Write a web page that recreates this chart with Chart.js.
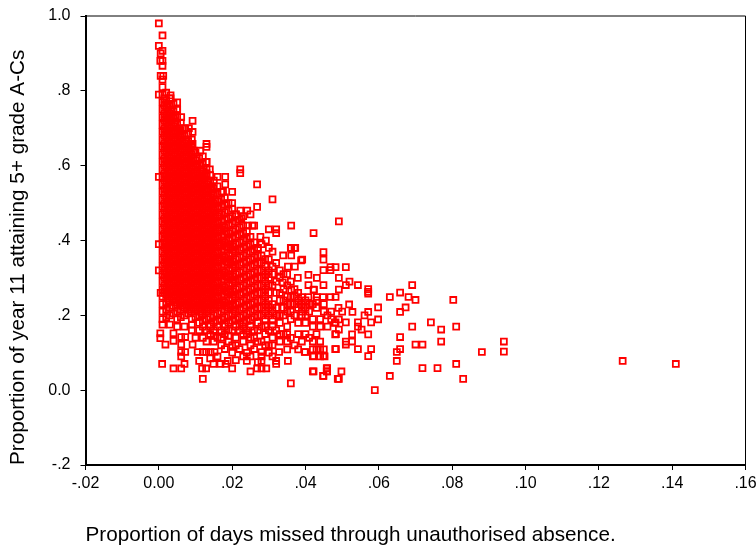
<!DOCTYPE html>
<html>
<head>
<meta charset="utf-8">
<style>
    html, body { margin: 0; padding: 0; background: #fff; }
    #wrap { width: 756px; height: 550px; position: relative; }
</style>
<script src="https://cdn.jsdelivr.net/npm/chart.js@4"></script>
</head>
<body>
<div id="wrap"><canvas id="myChart" width="756" height="550"></canvas></div>
<script>
const xTickLabels = ['-.02', '0.00', '.02', '.04', '.06', '.08', '.10', '.12', '.14', '.16'];
const yTickLabels = ['-.2', '0.0', '.2', '.4', '.6', '.8', '1.0'];

// dense part of the cloud: one absence value, then the attainment values read at it
const denseAbsence = [
    .001, .002, .003, .004, .005, .006, .007, .008, .009, .010,
    .011, .012, .013, .014, .015, .016, .017, .018, .019, .020,
    .021, .022, .023, .024, .025, .026, .027, .028, .029, .030
];
const denseAttainment = [
    [.19,.21,.23,.25,.27,.29,.31,.33,.35,.37,.39,.41,.43,.45,.47,.49,.51,.53,.55,.57,.59,.61,.63,.65,.67,.69,.71,.73,.75,.77,.79,.81,.83],
    [.195,.215,.235,.255,.275,.295,.315,.335,.355,.375,.395,.415,.435,.455,.475,.495,.515,.535,.555,.575,.595,.615,.635,.655,.675,.695,.715,.735,.755,.775,.795],
    [.2,.22,.24,.26,.28,.3,.32,.34,.36,.38,.4,.42,.44,.46,.48,.5,.52,.54,.56,.58,.6,.62,.64,.66,.68,.7,.72,.74,.76,.78],
    [.205,.225,.245,.265,.285,.305,.325,.345,.365,.385,.405,.425,.445,.465,.485,.505,.525,.545,.565,.585,.605,.625,.645,.665,.685,.705,.725,.745,.765],
    [.19,.21,.23,.25,.27,.29,.31,.33,.35,.37,.39,.41,.43,.45,.47,.49,.51,.53,.55,.57,.59,.61,.63,.65,.67,.69,.71,.73,.75],
    [.195,.215,.235,.255,.275,.295,.315,.335,.355,.375,.395,.415,.435,.455,.475,.495,.515,.535,.555,.575,.595,.615,.635,.655,.675,.695,.715],
    [.2,.22,.24,.26,.28,.3,.32,.34,.36,.38,.4,.42,.44,.46,.48,.5,.52,.54,.56,.58,.6,.62,.64,.66,.68,.7],
    [.205,.225,.245,.265,.285,.305,.325,.345,.365,.385,.405,.425,.445,.465,.485,.505,.525,.545,.565,.585,.605,.625,.645,.665,.685],
    [.19,.21,.23,.25,.27,.29,.31,.33,.35,.37,.39,.41,.43,.45,.47,.49,.51,.53,.55,.57,.59,.61,.63,.65,.67],
    [.195,.215,.235,.255,.275,.295,.315,.335,.355,.375,.395,.415,.435,.455,.475,.495,.515,.535,.555,.575,.595,.615,.635],
    [.18,.2,.22,.24,.26,.28,.3,.32,.34,.36,.38,.4,.42,.44,.46,.48,.5,.52,.54,.56,.58,.6,.62],
    [.185,.205,.225,.245,.265,.285,.305,.325,.345,.365,.385,.405,.425,.445,.465,.485,.505,.525,.545,.565,.585,.605,.625],
    [.19,.21,.23,.25,.27,.29,.31,.33,.35,.37,.39,.41,.43,.45,.47,.49,.51,.53,.55,.57,.59,.61],
    [.175,.195,.215,.235,.255,.275,.295,.315,.335,.355,.375,.395,.415,.435,.455,.475,.495,.515,.535,.555,.575],
    [.18,.2,.22,.24,.26,.28,.3,.32,.34,.36,.38,.4,.42,.44,.46,.48,.5,.52,.54,.56],
    [.185,.205,.225,.245,.265,.285,.305,.325,.345,.365,.385,.405,.425,.445,.465,.485,.505,.525,.545],
    [.19,.21,.23,.25,.27,.29,.31,.33,.35,.37,.39,.41,.43,.45,.47,.49,.51,.53],
    [.175,.195,.215,.235,.255,.275,.295,.315,.335,.355,.375,.395,.415,.435,.455,.475,.495,.515],
    [.18,.2,.22,.24,.26,.28,.3,.32,.34,.36,.38,.4,.42,.44,.46,.48,.5],
    [.185,.205,.225,.245,.265,.285,.305,.325,.345,.365,.385,.405,.425,.445,.465,.485],
    [.19,.21,.23,.25,.27,.29,.31,.33,.35,.37,.39,.41,.43,.45,.47],
    [.175,.195,.215,.235,.255,.275,.295,.315,.335,.355,.375,.395,.415,.435,.455],
    [.18,.2,.22,.24,.26,.28,.3,.32,.34,.36,.38,.4,.42,.44],
    [.185,.205,.225,.245,.265,.285,.305,.325,.345,.365,.385,.405,.425],
    [.19,.21,.23,.25,.27,.29,.31,.33,.35,.37,.39,.41],
    [.195,.215,.235,.255,.275,.295,.315,.335,.355,.375,.395],
    [.18,.2,.22,.24,.26,.28,.3,.32,.34,.36,.38],
    [.2,.22,.24,.26,.28,.3,.32,.34,.36],
    [.19,.21,.23,.25,.27,.29,.31,.33,.35],
    [.2,.22,.24,.26,.28,.3,.32]
];

// second pass over the same block, read between the columns above
const fillAbsence = [
    .0015, .0025, .0035, .0045, .0055, .0065, .0075, .0085, .0095, .0105,
    .0115, .0125, .0135, .0145, .0155, .0165, .0175, .0185, .0195, .0205
];
const fillAttainment = [
    [.26,.28,.3,.32,.34,.36,.38,.4,.42,.44,.46,.48,.5,.52,.54,.56,.58,.6,.62,.64,.66,.68,.7,.72,.74,.76,.78],
    [.245,.265,.285,.305,.325,.345,.365,.385,.405,.425,.445,.465,.485,.505,.525,.545,.565,.585,.605,.625,.645,.665,.685,.705,.725,.745,.765],
    [.25,.27,.29,.31,.33,.35,.37,.39,.41,.43,.45,.47,.49,.51,.53,.55,.57,.59,.61,.63,.65,.67,.69,.71,.73,.75],
    [.235,.255,.275,.295,.315,.335,.355,.375,.395,.415,.435,.455,.475,.495,.515,.535,.555,.575,.595,.615,.635,.655,.675,.695,.715,.735],
    [.24,.26,.28,.3,.32,.34,.36,.38,.4,.42,.44,.46,.48,.5,.52,.54,.56,.58,.6,.62,.64,.66,.68,.7],
    [.225,.245,.265,.285,.305,.325,.345,.365,.385,.405,.425,.445,.465,.485,.505,.525,.545,.565,.585,.605,.625,.645,.665,.685],
    [.23,.25,.27,.29,.31,.33,.35,.37,.39,.41,.43,.45,.47,.49,.51,.53,.55,.57,.59,.61,.63,.65,.67],
    [.215,.235,.255,.275,.295,.315,.335,.355,.375,.395,.415,.435,.455,.475,.495,.515,.535,.555,.575,.595,.615,.635,.655],
    [.22,.24,.26,.28,.3,.32,.34,.36,.38,.4,.42,.44,.46,.48,.5,.52,.54,.56,.58,.6,.62,.64],
    [.225,.245,.265,.285,.305,.325,.345,.365,.385,.405,.425,.445,.465,.485,.505,.525,.545,.565,.585,.605],
    [.21,.23,.25,.27,.29,.31,.33,.35,.37,.39,.41,.43,.45,.47,.49,.51,.53,.55,.57,.59],
    [.215,.235,.255,.275,.295,.315,.335,.355,.375,.395,.415,.435,.455,.475,.495,.515,.535,.555,.575],
    [.22,.24,.26,.28,.3,.32,.34,.36,.38,.4,.42,.44,.46,.48,.5,.52,.54,.56],
    [.225,.245,.265,.285,.305,.325,.345,.365,.385,.405,.425,.445,.465,.485,.505,.525,.545],
    [.23,.25,.27,.29,.31,.33,.35,.37,.39,.41,.43,.45,.47,.49,.51],
    [.235,.275,.315,.355,.395,.435,.475],
    [.24,.28,.32,.36,.4,.44],
    [.225,.265,.305,.345,.385,.425],
    [.23,.27,.31,.35,.39],
    [.215,.255,.295,.335,.375]
];

// squares along the top edge of the cloud
const edgePoints = [
    [.000,.98],[.001,.948],[.000,.92],[.001,.907],[.0005,.9],[.0004,.88],[.001,.88],[.001,.867],
    [.0005,.84],[.0012,.84],[.000,.79],[.0032,.788],[.0032,.78],[.005,.769],[.005,.75],[.0061,.73],
    [.0092,.72],[.0072,.7],[.0082,.7],[.0092,.69],[.0092,.658],[.013,.658],[.013,.65],[.0113,.64],
    [.013,.61],[.0139,.59],[.013,.58],[.0222,.59],[.0222,.58],[.0181,.57],[.016,.57],[.0181,.55],
    [.0268,.55],[.031,.51],[.0268,.49],[.02,.53],[.0175,.53],[.02,.5],[.0222,.48],[.0241,.48],
    [.025,.47],[.0241,.44],[.026,.44],[.0361,.44],[.03,.43],[.032,.43],[.032,.42],[.0277,.41],
    [.0292,.4],[.0361,.38],[.0372,.38],[.000,.57],[.000,.39],[.000,.32],[.0005,.26],[.0225,.46],
    [.021,.47],[.023,.465],[.0255,.44],[.028,.39],[.03,.38],[.031,.37],[.027,.38],[.03,.35]
];

// looser squares right of the dense block
const middlePoints = [
    [.0339,.36],[.0361,.36],[.036,.38],[.037,.38],[.0388,.347],[.0371,.33],[.0352,.33],[.032,.34],
    [.0338,.288],[.0361,.268],[.039,.249],[.0379,.3],[.0408,.308],[.0431,.3],[.0408,.281],[.0423,.268],
    [.0408,.249],[.0431,.249],[.0448,.249],[.0468,.249],[.0482,.249],[.0391,.349],[.033,.32],[.035,.31],
    [.031,.33],[.033,.3],[.036,.29],[.031,.28],[.034,.27],[.032,.26],[.036,.25],[.033,.24],[.037,.23],
    [.034,.22],[.038,.22],[.04,.22],[.031,.23],[.035,.21],[.039,.2],[.033,.2],[.036,.19],[.031,.19],
    [.041,.21],[.043,.22],[.045,.21],[.042,.19],[.044,.19],[.046,.2],[.047,.19],[.038,.18],[.04,.18],
    [.033,.18],[.035,.17],[.042,.17],[.044,.17],[.046,.17],[.048,.18],[.041,.23],[.043,.24],[.045,.23],
    [.032,.22],[.034,.24],[.036,.23],[.038,.26],[.04,.24],[.042,.23],[.047,.21],[.049,.22],[.05,.21],
    [.031,.31],[.032,.29],[.034,.31],[.035,.28],[.033,.26],[.035,.25],[.034,.2],[.032,.2],[.031,.21],
    [.037,.2],[.038,.24],[.036,.21],[.035,.23],[.037,.25],[.039,.23],[.037,.27],[.039,.21],[.04,.2]
];

// band under the dense block, about .03 to .18
const lowerPoints = [
    [.0004,.152],[.0004,.139],[.0018,.122],[.0009,.07],[.004,.152],[.004,.132],[.0061,.142],[.0072,.142],
    [.0061,.122],[.0092,.122],[.0061,.102],[.0072,.102],[.0061,.09],[.007,.07],[.004,.058],[.0061,.058],
    [.011,.078],[.0106,.102],[.012,.102],[.0129,.102],[.0141,.102],[.0152,.102],[.0118,.058],[.0129,.058],
    [.012,.03],[.0149,.07],[.0168,.07],[.0182,.07],[.0188,.078],[.02,.058],[.024,.078],[.025,.05],
    [.0268,.058],[.028,.058],[.0293,.058],[.028,.078],[.028,.09],[.028,.102],[.032,.078],[.032,.07],
    [.0352,.078],[.036,.018],[.0328,.102],[.035,.109],[.042,.05],[.0458,.058],[.0458,.05],[.0448,.038],
    [.0488,.03],[.042,.09],[.044,.09],[.0452,.09],[.042,.109],[.043,.109],[.044,.109],[.045,.109],
    [.0398,.102],[.038,.109],[.0483,.11],[.044,.13],[.0483,.15],[.012,.14],[.014,.15],[.015,.13],
    [.016,.14],[.017,.12],[.018,.15],[.019,.13],[.02,.12],[.021,.14],[.022,.16],[.023,.13],[.024,.15],
    [.025,.12],[.026,.14],[.027,.16],[.028,.13],[.029,.15],[.03,.12],[.031,.14],[.032,.16],[.033,.13],
    [.034,.15],[.035,.13],[.036,.14],[.037,.12],[.038,.15],[.039,.13],[.04,.15],[.041,.14],[.042,.13],
    [.043,.15],[.009,.16],[.01,.14],[.011,.16],[.012,.17],[.013,.16],[.015,.16],[.017,.16],[.019,.16],
    [.021,.17],[.023,.17],[.025,.17],[.018,.11],[.02,.1],[.022,.11],[.024,.1],[.026,.11],[.03,.1],
    [.031,.09],[.016,.09],[.014,.085],[.023,.09],[.025,.09],[.003,.175],[.005,.17],[.007,.17],[.001,.175],
    [.009,.175],[.027,.075],[.021,.08],[.014,.17],[.016,.17],[.018,.17],[.02,.16],[.024,.16],[.026,.16],
    [.028,.17],[.03,.16],[.029,.17],[.031,.17],[.013,.13],[.015,.145],[.017,.14],[.019,.145],[.021,.12],
    [.023,.15],[.025,.14],[.027,.13],[.029,.12],[.031,.12],[.033,.15],[.035,.15]
];

// the far right, single schools that can be read one by one
const tailPoints = [
    [.0491,.451],[.0422,.42],[.0449,.369],[.0449,.349],[.0468,.329],[.0468,.321],[.0449,.321],[.0482,.329],
    [.051,.329],[.0491,.3],[.052,.29],[.051,.281],[.0543,.281],[.0449,.281],[.0422,.269],[.0491,.269],
    [.0571,.27],[.0571,.263],[.0571,.258],[.063,.249],[.0658,.261],[.0691,.281],[.0681,.249],[.07,.241],
    [.0803,.241],[.0673,.221],[.0658,.209],[.0742,.181],[.077,.162],[.0691,.17],[.0811,.17],[.077,.13],
    [.07,.122],[.0719,.122],[.0658,.142],[.0658,.11],[.0649,.102],[.0649,.078],[.0881,.102],[.0719,.059],
    [.076,.059],[.0811,.07],[.083,.03],[.063,.038],[.0589,0],[.0941,.13],[.0941,.103],[.1265,.078],
    [.141,.07],[.0598,.221],[.0571,.209],[.0561,.2],[.0519,.229],[.0528,.209],[.0598,.189],[.0579,.181],
    [.0543,.181],[.0543,.17],[.0553,.162],[.051,.181],[.0491,.189],[.0491,.162],[.0482,.181],[.0571,.149],
    [.0527,.149],[.0481,.149],[.0527,.13],[.051,.13],[.051,.122],[.0543,.11],[.0579,.11],[.0571,.091],
    [.0481,.11],[.0498,.05],[.0459,.059],[.0459,.05],[.0449,.038],[.0491,.03],[.0422,.05],[.0422,.091],
    [.0449,.091],[.0399,.102]
];

const schoolPoints = [];
denseAbsence.forEach((absence, index) => {
    denseAttainment[index].forEach(attainment => {
        schoolPoints.push({ x: absence, y: attainment });
    });
});
fillAbsence.forEach((absence, index) => {
    fillAttainment[index].forEach(attainment => {
        schoolPoints.push({ x: absence, y: attainment });
    });
});
[edgePoints, middlePoints, lowerPoints, tailPoints].forEach(list => {
    list.forEach(pair => {
        schoolPoints.push({ x: pair[0], y: pair[1] });
    });
});

// thin frame on the top and right of the plot
const plotFrame = {
    id: 'plotFrame',
    afterDraw(chart) {
        const area = chart.chartArea;
        const c = chart.ctx;
        c.save();
        c.strokeStyle = '#000';
        c.lineWidth = 1;
        c.beginPath();
        c.moveTo(area.left, area.top);
        c.lineTo(area.right, area.top);
        c.lineTo(area.right, area.bottom);
        c.stroke();
        c.restore();
    }
};

const ctx = document.getElementById('myChart');
new Chart(ctx, {
    type: 'scatter',
    data: {
        datasets: [{
            label: 'Schools',
            data: schoolPoints,
            pointStyle: 'rect',
            pointRadius: 4.2,
            pointHoverRadius: 4.2,
            pointBorderWidth: 1.8,
            pointBorderColor: '#ff0000',
            pointBackgroundColor: 'rgba(255, 255, 255, 0)'
        }]
    },
    options: {
        responsive: false,
        animation: false,
        clip: false,
        layout: {
            padding: { top: 16, right: 10.5, left: 0, bottom: 0 }
        },
        plugins: {
            legend: { display: false },
            tooltip: { enabled: false }
        },
        scales: {
            x: {
                type: 'linear',
                min: -.02,
                max: .16,
                afterFit(scale) {
                    scale.height = 85;
                    scale.paddingLeft = 0;
                    scale.paddingRight = 0;
                },
                ticks: {
                    stepSize: .02,
                    autoSkip: false,
                    maxRotation: 0,
                    color: '#000',
                    padding: 4,
                    font: { family: 'Liberation Sans', size: 16 },
                    callback: (value, index) => xTickLabels[index]
                },
                grid: {
                    drawOnChartArea: false,
                    color: '#000',
                    tickLength: 5
                },
                border: { color: '#000', width: 2 },
                title: {
                    display: true,
                    text: 'Proportion of days missed through unauthorised absence.',
                    align: 'start',
                    color: '#000',
                    font: { family: 'Liberation Sans', size: 20.7 },
                    padding: { top: 0, bottom: 2 }
                }
            },
            y: {
                type: 'linear',
                min: -.2,
                max: 1,
                afterFit(scale) {
                    scale.width = 85.5;
                    scale.paddingTop = 0;
                    scale.paddingBottom = 0;
                },
                ticks: {
                    stepSize: .2,
                    autoSkip: false,
                    color: '#000',
                    padding: 10,
                    font: { family: 'Liberation Sans', size: 16 },
                    callback: (value, index) => yTickLabels[index]
                },
                grid: {
                    drawOnChartArea: false,
                    color: '#000',
                    tickLength: 5
                },
                border: { color: '#000', width: 2 },
                title: {
                    display: true,
                    text: 'Proportion of year 11 attaining 5+ grade A-Cs',
                    align: 'start',
                    color: '#000',
                    font: { family: 'Liberation Sans', size: 20.7 },
                    padding: { top: 6, bottom: 0 }
                }
            }
        }
    },
    plugins: [plotFrame]
});
</script>
</body>
</html>
